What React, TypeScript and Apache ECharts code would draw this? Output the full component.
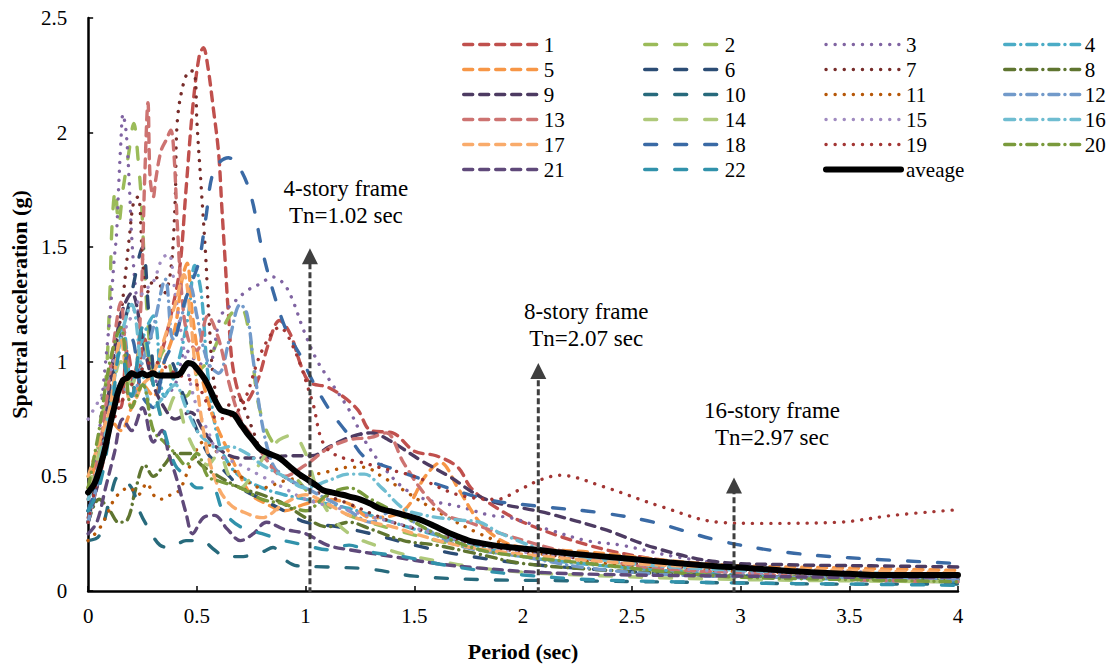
import React, { useEffect, useRef } from "react";
import * as echarts from "echarts";

type Pt = [number, number];

const FONT = "'Liberation Serif', 'Times New Roman', serif";

const seriesNames = ["1","2","3","4","5","6","7","8","9","10","11","12","13","14","15","16","17","18","19","20","21","22"];
const seriesColors = ["#C0504D","#9BBB59","#8064A2","#4BACC6","#F79646","#2C4D75","#772C2A","#5F7530","#4D3B62","#276A7C","#B65708","#729ACA","#CD7371","#AFC97A","#A08BC0","#6FBDD1","#F9AB6B","#3A6AA5","#A33634","#7A9A3C","#5F497A","#3192AB"];
const xTicks = [0, 0.5, 1, 1.5, 2, 2.5, 3, 3.5, 4];
const yTicks = [0, 0.5, 1, 1.5, 2, 2.5];

const s1: Pt[] = [[0,0.32],[0.04,0.45],[0.08,0.62],[0.12,0.9],[0.15,0.8],[0.18,1.05],[0.22,0.85],[0.26,1.1],[0.3,0.95],[0.34,1.05],[0.38,1.2],[0.42,1.4],[0.45,1.75],[0.48,2.1],[0.51,2.33],[0.53,2.37],[0.55,2.29],[0.575,2.11],[0.6,1.91],[0.615,1.67],[0.63,1.44],[0.645,1.21],[0.67,0.95],[0.72,0.82],[0.78,0.92],[0.83,1.08],[0.88,1.18],[0.93,1.12],[0.98,0.98],[1.02,0.91],[1.1,0.89],[1.17,0.85],[1.24,0.79],[1.3,0.7],[1.4,0.69],[1.5,0.61],[1.6,0.59],[1.7,0.54],[1.76,0.45],[1.85,0.38],[2,0.3],[2.3,0.2],[2.6,0.14],[3,0.1],[3.5,0.075],[4,0.06]];
const s2: Pt[] = [[0,0.5],[0.04,0.6],[0.08,0.9],[0.1,1.3],[0.11,1.6],[0.125,1.75],[0.14,1.6],[0.16,1.75],[0.185,1.9],[0.21,2.04],[0.23,1.88],[0.245,1.7],[0.26,1.4],[0.28,1.1],[0.3,0.95],[0.35,1.05],[0.4,0.9],[0.45,0.85],[0.5,0.95],[0.55,1.0],[0.6,1.1],[0.65,1.2],[0.7,1.24],[0.74,1.13],[0.76,0.98],[0.78,0.83],[0.82,0.7],[0.88,0.6],[0.95,0.5],[1.05,0.4],[1.2,0.33],[1.4,0.27],[1.6,0.22],[1.8,0.18],[2,0.15],[2.3,0.12],[2.7,0.09],[3,0.07],[3.5,0.06],[4,0.05]];
const s3: Pt[] = [[0,0.45],[0.04,0.6],[0.07,0.9],[0.1,1.2],[0.12,1.45],[0.13,1.55],[0.14,1.76],[0.15,1.95],[0.16,2.08],[0.175,2.0],[0.19,1.76],[0.2,1.55],[0.22,1.3],[0.25,1.1],[0.3,0.95],[0.35,0.85],[0.4,0.9],[0.45,1.05],[0.5,1.0],[0.55,0.98],[0.61,1.2],[0.66,1.25],[0.73,1.31],[0.79,1.34],[0.85,1.37],[0.9,1.34],[0.94,1.27],[0.99,1.14],[1.05,1.01],[1.11,0.92],[1.2,0.79],[1.27,0.66],[1.35,0.55],[1.45,0.45],[1.55,0.4],[1.7,0.37],[1.85,0.33],[1.94,0.32],[2.11,0.27],[2.29,0.22],[2.45,0.2],[2.7,0.15],[3,0.11],[3.5,0.085],[4,0.07]];
const s4: Pt[] = [[0,0.35],[0.05,0.5],[0.1,0.75],[0.13,1.0],[0.16,1.15],[0.2,0.9],[0.25,1.1],[0.3,1.2],[0.35,0.85],[0.4,0.95],[0.46,1.2],[0.49,1.42],[0.52,1.3],[0.55,0.95],[0.6,0.65],[0.65,0.55],[0.7,0.5],[0.8,0.45],[0.9,0.42],[1,0.4],[1.1,0.38],[1.2,0.36],[1.3,0.33],[1.4,0.3],[1.5,0.27],[1.7,0.22],[2,0.15],[2.5,0.1],[3,0.07],[3.5,0.05],[4,0.04]];
const s5: Pt[] = [[0,0.45],[0.05,0.6],[0.1,0.75],[0.15,0.7],[0.2,0.8],[0.25,0.9],[0.3,0.85],[0.35,1.0],[0.4,1.15],[0.43,1.35],[0.455,1.43],[0.48,1.2],[0.52,0.95],[0.56,0.8],[0.6,0.7],[0.65,0.6],[0.7,0.5],[0.75,0.42],[0.82,0.38],[0.9,0.35],[1,0.38],[1.1,0.4],[1.2,0.38],[1.3,0.32],[1.45,0.35],[1.55,0.5],[1.62,0.56],[1.7,0.45],[1.8,0.3],[1.9,0.22],[2,0.19],[2.3,0.17],[2.7,0.13],[3,0.11],[3.5,0.1],[4,0.09]];
const s6: Pt[] = [[0,0.3],[0.05,0.55],[0.1,0.85],[0.15,1.1],[0.2,1.3],[0.25,1.5],[0.28,1.2],[0.32,0.9],[0.38,1.0],[0.42,0.9],[0.48,0.75],[0.55,0.6],[0.6,0.55],[0.65,0.5],[0.7,0.45],[0.8,0.4],[0.9,0.35],[1,0.3],[1.15,0.28],[1.3,0.25],[1.5,0.2],[1.7,0.16],[2,0.12],[2.4,0.09],[2.8,0.07],[3.3,0.06],[4,0.05]];
const s7: Pt[] = [[0,0.35],[0.05,0.55],[0.1,0.9],[0.15,1.2],[0.19,1.55],[0.21,1.7],[0.23,1.72],[0.25,1.45],[0.27,1.3],[0.31,1.37],[0.35,1.3],[0.38,1.4],[0.4,1.7],[0.41,2.05],[0.44,2.22],[0.47,2.27],[0.49,2.26],[0.5,2.05],[0.52,1.76],[0.54,1.47],[0.555,1.2],[0.58,0.9],[0.62,0.78],[0.68,0.85],[0.75,0.72],[0.8,0.6],[0.9,0.5],[1,0.45],[1.2,0.38],[1.4,0.3],[1.6,0.25],[1.8,0.2],[2.1,0.16],[2.5,0.12],[3,0.09],[3.5,0.07],[4,0.06]];
const s8: Pt[] = [[0,0.3],[0.05,0.4],[0.1,0.35],[0.14,0.3],[0.18,0.31],[0.22,0.45],[0.26,0.55],[0.3,0.5],[0.35,0.55],[0.4,0.6],[0.47,0.6],[0.52,0.55],[0.6,0.5],[0.7,0.45],[0.8,0.42],[0.9,0.38],[1,0.32],[1.1,0.28],[1.2,0.3],[1.3,0.27],[1.45,0.22],[1.6,0.2],[1.8,0.16],[2,0.12],[2.4,0.09],[2.8,0.07],[3.3,0.06],[4,0.05]];
const s9: Pt[] = [[0,0.3],[0.05,0.5],[0.1,0.9],[0.15,1.2],[0.2,1.3],[0.25,1.1],[0.3,0.9],[0.35,0.8],[0.4,0.75],[0.47,0.78],[0.53,0.7],[0.6,0.62],[0.7,0.58],[0.8,0.58],[0.93,0.59],[1.03,0.59],[1.11,0.63],[1.2,0.67],[1.3,0.69],[1.38,0.66],[1.53,0.57],[1.66,0.5],[1.83,0.4],[2.06,0.35],[2.11,0.34],[2.37,0.27],[2.6,0.19],[2.87,0.13],[3.2,0.115],[3.6,0.11],[4,0.105]];
const s10: Pt[] = [[0,0.22],[0.05,0.24],[0.1,0.4],[0.14,0.5],[0.2,0.45],[0.24,0.34],[0.28,0.27],[0.33,0.2],[0.38,0.19],[0.45,0.22],[0.52,0.22],[0.58,0.18],[0.63,0.15],[0.7,0.15],[0.8,0.17],[0.85,0.19],[0.9,0.14],[0.96,0.11],[1.1,0.105],[1.3,0.095],[1.5,0.065],[1.8,0.05],[2.2,0.045],[2.6,0.04],[3,0.035],[3.5,0.03],[4,0.03]];
const s11: Pt[] = [[0,0.22],[0.05,0.27],[0.09,0.34],[0.12,0.4],[0.16,0.44],[0.19,0.45],[0.23,0.42],[0.27,0.47],[0.3,0.42],[0.33,0.4],[0.38,0.42],[0.42,0.44],[0.47,0.55],[0.53,0.65],[0.6,0.6],[0.65,0.55],[0.7,0.5],[0.8,0.45],[0.9,0.48],[1,0.5],[1.1,0.52],[1.2,0.54],[1.27,0.54],[1.35,0.5],[1.45,0.44],[1.6,0.35],[1.8,0.25],[2,0.18],[2.3,0.13],[2.7,0.1],[3,0.085],[3.5,0.075],[4,0.07]];
const s12: Pt[] = [[0,0.3],[0.05,0.5],[0.1,0.7],[0.15,0.9],[0.2,0.85],[0.25,1.0],[0.3,1.15],[0.355,1.36],[0.39,1.1],[0.43,1.2],[0.47,1.33],[0.5,1.2],[0.55,1.0],[0.6,0.95],[0.65,1.1],[0.7,1.25],[0.73,1.21],[0.76,1.0],[0.8,0.73],[0.85,0.55],[0.9,0.5],[1,0.45],[1.1,0.4],[1.2,0.35],[1.3,0.3],[1.4,0.35],[1.5,0.3],[1.7,0.2],[2,0.15],[2.3,0.1],[2.7,0.07],[3.2,0.06],[4,0.05]];
const s13: Pt[] = [[0,0.4],[0.04,0.55],[0.08,0.8],[0.12,1.1],[0.15,1.26],[0.18,1.0],[0.21,0.95],[0.24,1.2],[0.26,1.8],[0.275,2.13],[0.285,1.8],[0.3,1.72],[0.31,1.79],[0.335,1.92],[0.36,1.97],[0.38,2.01],[0.395,1.9],[0.41,1.6],[0.43,1.3],[0.46,1.1],[0.5,1.05],[0.55,1.2],[0.6,1.1],[0.65,0.9],[0.7,0.75],[0.75,0.68],[0.8,0.6],[0.9,0.5],[1,0.55],[1.1,0.62],[1.2,0.66],[1.3,0.67],[1.37,0.69],[1.45,0.56],[1.55,0.42],[1.65,0.33],[1.75,0.3],[1.9,0.25],[2.2,0.17],[2.6,0.1],[3,0.08],[3.5,0.05],[4,0.04]];
const s14: Pt[] = [[0,0.45],[0.05,0.6],[0.1,0.8],[0.15,1.0],[0.2,0.9],[0.25,1.1],[0.3,0.9],[0.35,0.75],[0.4,0.85],[0.45,0.7],[0.5,0.6],[0.55,0.55],[0.6,0.6],[0.65,0.5],[0.7,0.45],[0.75,0.5],[0.82,0.6],[0.88,0.66],[0.94,0.68],[1,0.6],[1.05,0.45],[1.1,0.35],[1.2,0.25],[1.35,0.19],[1.5,0.15],[1.9,0.09],[2.4,0.065],[3,0.05],[4,0.04]];
const s15: Pt[] = [[0,0.75],[0.03,0.8],[0.06,0.85],[0.1,0.95],[0.15,1.1],[0.2,1.2],[0.25,1.3],[0.3,1.35],[0.34,1.45],[0.37,1.47],[0.4,1.3],[0.45,1.0],[0.5,0.8],[0.55,0.7],[0.6,0.6],[0.7,0.55],[0.8,0.5],[0.9,0.45],[1,0.4],[1.2,0.35],[1.4,0.3],[1.6,0.25],[1.8,0.2],[2,0.17],[2.3,0.14],[2.7,0.1],[3,0.08],[3.5,0.07],[4,0.06]];
const s16: Pt[] = [[0,0.4],[0.05,0.55],[0.1,0.8],[0.15,1.1],[0.2,1.25],[0.25,0.95],[0.3,0.8],[0.35,0.85],[0.4,0.9],[0.45,0.8],[0.5,0.7],[0.55,0.65],[0.6,0.62],[0.65,0.63],[0.73,0.6],[0.8,0.55],[0.9,0.5],[1,0.45],[1.1,0.48],[1.2,0.51],[1.27,0.51],[1.35,0.45],[1.45,0.36],[1.55,0.33],[1.7,0.31],[1.8,0.3],[1.9,0.25],[2.1,0.18],[2.5,0.12],[3,0.09],[3.5,0.08],[4,0.07]];
const s17: Pt[] = [[0,0.5],[0.05,0.65],[0.1,0.8],[0.15,1.1],[0.2,0.8],[0.25,0.9],[0.3,0.95],[0.35,1.1],[0.4,1.25],[0.44,1.38],[0.47,1.2],[0.5,0.9],[0.55,0.6],[0.6,0.45],[0.65,0.38],[0.7,0.35],[0.8,0.32],[0.9,0.38],[1,0.42],[1.1,0.38],[1.2,0.33],[1.3,0.3],[1.4,0.28],[1.5,0.25],[1.7,0.2],[2,0.16],[2.5,0.12],[3,0.1],[3.5,0.09],[4,0.08]];
const s18: Pt[] = [[0,0.35],[0.05,0.5],[0.1,0.75],[0.15,0.9],[0.2,1.1],[0.25,0.85],[0.3,0.8],[0.35,1.0],[0.4,1.1],[0.44,1.25],[0.47,1.33],[0.51,1.44],[0.54,1.62],[0.58,1.84],[0.645,1.89],[0.7,1.84],[0.75,1.72],[0.8,1.49],[0.85,1.31],[0.91,1.14],[0.98,1.02],[1.03,0.92],[1.11,0.79],[1.19,0.69],[1.27,0.585],[1.38,0.54],[1.56,0.48],[1.83,0.4],[2.07,0.37],[2.37,0.34],[2.6,0.3],[2.9,0.22],[3.2,0.17],[3.5,0.145],[4,0.12]];
const s19: Pt[] = [[0,0.3],[0.1,0.7],[0.2,0.9],[0.3,1.0],[0.4,0.95],[0.5,0.9],[0.6,0.75],[0.7,0.8],[0.8,1.05],[0.88,1.15],[0.95,1.05],[1.03,0.83],[1.1,0.62],[1.3,0.55],[1.5,0.5],[1.7,0.42],[1.88,0.4],[1.98,0.44],[2.08,0.485],[2.17,0.505],[2.37,0.455],[2.63,0.37],[2.9,0.3],[3.1,0.295],[3.45,0.3],[3.7,0.33],[4,0.355]];
const s20: Pt[] = [[0,0.45],[0.05,0.7],[0.1,1.0],[0.15,1.15],[0.2,0.8],[0.25,0.9],[0.3,0.7],[0.35,0.65],[0.4,0.6],[0.45,0.55],[0.5,0.6],[0.55,0.5],[0.6,0.48],[0.7,0.45],[0.8,0.4],[0.9,0.38],[1,0.35],[1.1,0.42],[1.2,0.45],[1.3,0.4],[1.4,0.35],[1.5,0.3],[1.6,0.25],[1.8,0.18],[2,0.15],[2.3,0.12],[2.7,0.08],[3,0.06],[3.5,0.05],[4,0.04]];
const s21: Pt[] = [[0,0.25],[0.04,0.3],[0.08,0.45],[0.12,0.6],[0.16,0.75],[0.2,0.7],[0.25,0.8],[0.3,0.65],[0.34,0.7],[0.37,0.6],[0.41,0.48],[0.45,0.34],[0.48,0.25],[0.53,0.32],[0.58,0.33],[0.64,0.27],[0.7,0.22],[0.76,0.25],[0.82,0.3],[0.9,0.27],[1,0.25],[1.1,0.2],[1.2,0.18],[1.4,0.15],[1.6,0.12],[1.8,0.1],[2.1,0.08],[2.5,0.07],[3,0.065],[3.5,0.06],[4,0.06]];
const s22: Pt[] = [[0,0.35],[0.05,0.45],[0.1,0.7],[0.15,1.05],[0.2,0.85],[0.25,1.15],[0.3,0.9],[0.35,0.7],[0.4,0.55],[0.45,0.5],[0.5,0.45],[0.57,0.45],[0.62,0.35],[0.7,0.28],[0.8,0.25],[0.9,0.22],[1,0.2],[1.1,0.18],[1.2,0.2],[1.3,0.17],[1.45,0.15],[1.6,0.12],[1.8,0.09],[2,0.07],[2.3,0.05],[2.7,0.04],[3,0.035],[3.5,0.03],[4,0.025]];
const average: Pt[] = [[0,0.43],[0.03,0.47],[0.055,0.54],[0.08,0.63],[0.1,0.72],[0.12,0.8],[0.135,0.86],[0.16,0.92],[0.18,0.93],[0.2,0.95],[0.225,0.94],[0.25,0.95],[0.27,0.94],[0.3,0.95],[0.32,0.94],[0.35,0.94],[0.37,0.94],[0.4,0.94],[0.425,0.95],[0.445,0.98],[0.46,0.995],[0.48,0.99],[0.5,0.97],[0.525,0.94],[0.545,0.91],[0.57,0.86],[0.59,0.82],[0.61,0.79],[0.64,0.78],[0.67,0.77],[0.7,0.73],[0.73,0.69],[0.76,0.655],[0.79,0.62],[0.83,0.6],[0.87,0.585],[0.9,0.565],[0.93,0.54],[0.97,0.51],[1.01,0.485],[1.05,0.46],[1.08,0.44],[1.12,0.43],[1.17,0.42],[1.21,0.41],[1.25,0.4],[1.3,0.38],[1.34,0.36],[1.4,0.345],[1.46,0.33],[1.53,0.31],[1.6,0.28],[1.68,0.245],[1.75,0.22],[1.8,0.21],[1.9,0.195],[2.06,0.18],[2.2,0.165],[2.45,0.144],[2.7,0.122],[2.9,0.107],[3,0.103],[3.26,0.085],[3.5,0.075],[3.62,0.07],[4,0.07]];

const allSeries: Pt[][] = [s1,s2,s3,s4,s5,s6,s7,s8,s9,s10,s11,s12,s13,s14,s15,s16,s17,s18,s19,s20,s21,s22];

// Fundamental periods of the frames and the height (g) reached by the arrow
const frameNames = ["4-story frame", "8-story frame", "16-story frame"];
const framePeriods = [1.02, 2.07, 2.97];
const arrowTops = [1.46, 0.96, 0.46];

const dashPatterns: Record<string, number[]> = {
  dash: [9, 7],
  long: [12, 18],
  dot: [0.1, 9],
  dashdot: [10, 6, 0.1, 6],
};
const styleCycle = ["dash", "long", "dot", "dashdot"];

const GRID = { left: 88, top: 18, width: 870, height: 573 };
const labelOffsets = [36, 48, 38];
const labelTops = [188, 311, 410];

export default function App() {
  const ref = useRef<HTMLDivElement>(null);
  useEffect(() => {
    document.body.style.margin = "0";
    if (!ref.current) return;
    const chart = echarts.init(ref.current, undefined, { renderer: "svg" });

    const lineSeries: any[] = allSeries.map((d, i) => ({
      name: seriesNames[i],
      type: "line",
      data: d,
      smooth: 0.35,
      symbol: "none",
      showSymbol: false,
      z: 2,
      lineStyle: {
        color: seriesColors[i],
        width: 3.4,
        type: dashPatterns[styleCycle[i % 4]],
        cap: "round",
        join: "round",
      },
      itemStyle: { color: seriesColors[i] },
    }));

    lineSeries.push({
      name: "aveage",
      type: "line",
      data: average,
      smooth: 0.3,
      symbol: "none",
      showSymbol: false,
      z: 4,
      lineStyle: { color: "#000", width: 6, cap: "round", join: "round" },
      itemStyle: { color: "#000" },
    });

    // dashed arrow shafts marking the fundamental periods
    framePeriods.forEach((t, k) => {
      lineSeries.push({
        name: `arrow${k}`,
        type: "line",
        data: [[t, -0.01], [t, arrowTops[k]]],
        symbol: "none",
        silent: true,
        z: 5,
        lineStyle: { color: "#3F3F3F", width: 3, type: [6, 3], cap: "butt" },
      });
    });
    // arrow heads
    lineSeries.push({
      name: "arrowHeads",
      type: "scatter",
      data: framePeriods.map((t, k) => [t, arrowTops[k]]),
      symbol: "triangle",
      symbolSize: [16, 16],
      silent: true,
      z: 6,
      itemStyle: { color: "#3F3F3F", opacity: 1 },
    });

    const allNames = [...seriesNames, "aveage"];
    const colLefts = [462, 643, 823, 1003];
    const legends = [0, 1, 2, 3].map((c) => ({
      orient: "vertical",
      left: colLefts[c],
      top: 34,
      padding: 0,
      itemWidth: 75,
      itemHeight: 14,
      itemGap: 4,
      selectedMode: false,
      data: allNames.filter((_, i) => i % 4 === c),
      textStyle: { fontFamily: FONT, fontSize: 21, color: "#000" },
      lineStyle: { width: "inherit" },
      itemStyle: { color: "rgba(0,0,0,0)", borderColor: "rgba(0,0,0,0)", borderWidth: 0 },
    }));

    const texts: any[] = [];
    framePeriods.forEach((t, k) => {
      const cx = GRID.left + (t / 4) * GRID.width + labelOffsets[k];
      [frameNames[k], `Tn=${t.toFixed(2)} sec`].forEach((s, j) => {
        texts.push({
          type: "text",
          x: cx,
          y: labelTops[k] + j * 27.5,
          style: {
            text: s,
            font: `23px ${FONT}`,
            fill: "#000",
            align: "center",
            verticalAlign: "middle",
          },
        });
      });
    });

    chart.setOption({
      animation: false,
      backgroundColor: "#fff",
      grid: { ...GRID },
      legend: legends,
      xAxis: {
        type: "value",
        min: xTicks[0],
        max: xTicks[xTicks.length - 1],
        interval: 0.5,
        name: "Period (sec)",
        nameLocation: "middle",
        nameGap: 49,
        nameTextStyle: { fontFamily: FONT, fontSize: 22, fontWeight: "bold", color: "#000" },
        axisLine: { lineStyle: { color: "#000", width: 2.5 } },
        axisTick: { inside: true, length: 5, lineStyle: { color: "#000", width: 1.5 } },
        axisLabel: { fontFamily: FONT, fontSize: 21, color: "#000", margin: 14 },
        splitLine: { show: false },
      },
      yAxis: {
        type: "value",
        min: yTicks[0],
        max: yTicks[yTicks.length - 1],
        interval: 0.5,
        name: "Spectral acceleration (g)",
        nameLocation: "middle",
        nameGap: 57,
        nameTextStyle: { fontFamily: FONT, fontSize: 22, fontWeight: "bold", color: "#000" },
        axisLine: { show: true, lineStyle: { color: "#000", width: 2.5 } },
        axisTick: { show: true, inside: true, length: 5, lineStyle: { color: "#000", width: 1.5 } },
        axisLabel: { fontFamily: FONT, fontSize: 21, color: "#000", margin: 21 },
        splitLine: { show: false },
      },
      series: lineSeries,
      graphic: texts,
    });

    return () => chart.dispose();
  }, []);

  return <div ref={ref} style={{ width: 1113, height: 667 }} />;
}
